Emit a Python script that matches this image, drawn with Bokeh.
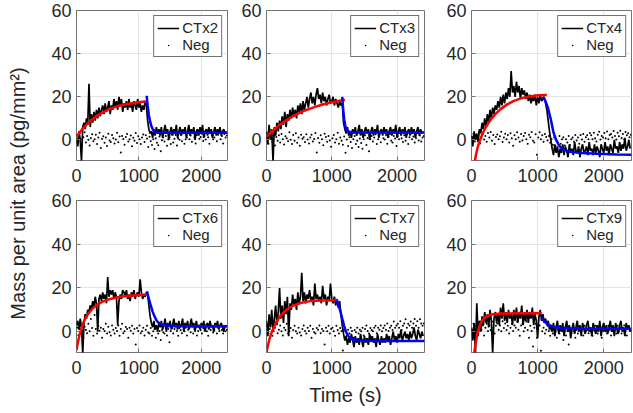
import math
from bokeh.plotting import figure
from bokeh.layouts import row, column
from bokeh.models import Range1d, FixedTicker, Legend, LegendItem
from bokeh.core.properties import value
from bokeh.embed import file_html
from bokeh.resources import INLINE

FONT = "Liberation Sans"
INK = "#262626"
FRAME = "#737373"
GRID = "#e4e4e4"

SAMPLE_STEP = 20  # seconds between readings
X_RANGE = (0, 2420)
Y_RANGE = (-9.5, 60)
X_TICKS = [0, 1000, 2000]
Y_TICKS = [0, 20, 40, 60]
X_LABEL = "Time (s)"
Y_LABEL = "Mass per unit area (pg/mm\u00b2)"
NEG_LABEL = "Neg"

# ---------------- CTx2 ----------------
ctx2_signal = [
    1, -3, 4, 0, -10, 6, 8, 5, 10, 7,
    26, 6, 12, 8, 13, 9, 14, 10, 15, 11,
    14, 16, 12, 17, 13, 15, 18, 12, 16, 14,
    19, 15, 18, 14, 20, 16, 19, 13, 17, 15,
    18, 14, 19, 15, 17, 13, 18, 16, 14, 19,
    15, 17, 13, 16, 14, 18, 16, 9, 5, 3,
    4, 1, 5, 2, 6, 3, 5, 2, 6, 1,
    4, 7, 3, 5, 0, 4, 6, 2, 5, 3,
    7, 1, 4, 6, 2, 5, 3, 6, 1, 4,
    7, 2, 5, 3, 6, 0, 4, 5, 2, 6,
    3, 7, 1, 4, 5, 2, 6, 3, 5, 1,
    4, 6, 2, 5, 3, 6, 2, 4, 5, 3,
    4]
ctx2_neg = [
    2.2, -0.8, 3.1, 0.4, -1.7, 1.3, 3.6, -1.2, 1.8, 0.1,
    -2.6, 0.9, 2.7, -0.6, 0.3, 2.4, -1.9, 1.1, 3.3, -3.7,
    0.6, 1.7, -1.3, 1.2, -2.8, 2.9, -0.2, -0.9, 2.3, 0.8,
    -1.6, 0.2, 3.4, -1.1, 1.6, -5.8, 1.9, 0.5, -2.2, 1.4,
    2.8, -0.7, 0.3, 2.1, -2.9, 1.0, -0.4, 3.2, -1.4, 1.7,
    0.4, -1.8, 1.2, 2.6, -0.9, 2.2, 0.7, -3.3, 1.5, -0.6,
    -2.3, 0.3, -4.2, 0.8, -1.3, -2.4, 1.6, -5.2, -0.1, 1.1,
    -0.7, 1.9, -2.7, 0.2, 1.3, -1.8, 2.6, -1.2, 0.6, 2.3,
    -2.6, 0.8, 0.1, 2.4, -0.6, 3.1, -1.7, 0.4, 1.2, 3.7,
    0.3, 2.1, -0.8, 3.4, 1.1, -1.6, 2.3, 4.2, 0.6, 1.4,
    2.9, -0.5, 1.8, 0.2, 3.8, 1.3, -1.7, 3.1, 2.2, 0.4,
    1.2, 3.6, -0.6, 2.4, 3.3, 0.3, 1.8, -1.6, 2.8, 1.1,
    2.1]
ctx2_rise_t = [0, 50, 100, 200, 300, 400, 500, 600, 700, 800, 900, 1000, 1130]
ctx2_rise_y = [1.5, 3.5, 5.3, 8.3, 10.7, 12.5, 14.0, 15.1, 16.0, 16.6, 17.1, 17.5, 17.9]
ctx2_decay_t = [1125, 1140, 1160, 1180, 1200, 1225, 1250, 1300, 1400, 1600, 2000, 2420]
ctx2_decay_y = [20.5, 16.0, 11.5, 8.5, 6.5, 4.8, 3.9, 3.4, 3.3, 3.3, 3.3, 3.3]

# ---------------- CTx3 ----------------
ctx3_signal = [
    4, -2, 7, 0, 5, -10, 6, 2, 8, 4,
    9, 5, 11, 7, 13, 6, 12, 9, 14, 10,
    15, 11, 14, 10, 16, 13, 17, 12, 18, 14,
    17, 20, 15, 19, 22, 17, 20, 16, 21, 24,
    19, 21, 17, 22, 18, 20, 16, 19, 21, 17,
    18, 20, 16, 19, 17, 15, 18, 16, 17, 8,
    5, 3, 6, 2, 4, 1, 5, 3, 6, 2,
    4, 7, 2, 5, 1, 4, 6, 3, 5, 0,
    4, 6, 2, 5, 3, 7, 1, 4, 5, 2,
    6, 3, 5, 1, 4, 6, 2, 5, 3, 7,
    1, 4, 6, 2, 5, 3, 6, 1, 4, 5,
    2, 6, 3, 5, 1, 4, 6, 2, 5, 3,
    4]
ctx3_neg = [
    1.2, -1.7, 2.6, 0.3, -0.8, 2.1, -2.6, 1.4, -0.3, 2.2,
    -1.2, 2.8, 0.4, -2.1, 1.7, 0.8, -0.6, 3.6, 0.1, -1.8,
    2.3, -0.4, 3.1, -1.3, 1.1, -2.7, 2.4, 0.6, 1.3, -0.9,
    2.7, 0.2, -1.6, 1.2, 2.4, -0.7, 0.5, 3.2, -5.8, 0.9,
    -1.3, 2.2, 0.3, -2.4, 2.9, 1.4, -0.8, 1.8, -0.2, -3.1,
    0.8, 2.3, -1.2, 0.4, 3.3, -1.7, 1.2, -0.3, -2.2, 1.6,
    -5.9, 0.2, -2.8, 1.3, -0.9, -3.7, 0.4, 1.8, -1.9, -0.4,
    -3.3, 0.7, -1.4, -4.1, 0.3, 2.2, -2.3, 0.9, -5.2, 0.4,
    1.8, -0.7, 1.2, 2.7, -1.8, 0.3, 2.4, -1.1, 3.2, 0.8,
    0.2, 2.3, -1.7, 1.4, 2.8, -0.3, -1.2, 1.9, 0.7, -2.8,
    1.7, 0.3, 3.1, 0.8, -0.9, 2.2, -0.4, 2.7, -1.8, 1.3,
    2.9, 0.4, 1.6, -1.2, 0.9, 3.3, -0.2, 2.1, -0.7, 1.2,
    1.8]
ctx3_rise_t = [0, 100, 200, 300, 400, 500, 600, 700, 800, 900, 1000, 1100, 1200]
ctx3_rise_y = [1.5, 4.4, 6.9, 9.1, 10.9, 12.4, 13.8, 14.9, 15.9, 16.8, 17.5, 18.1, 18.6]
ctx3_decay_t = [1160, 1175, 1190, 1205, 1220, 1240, 1270, 1320, 1400, 1600, 2000, 2420]
ctx3_decay_y = [20.0, 14.0, 9.5, 6.8, 5.2, 4.3, 3.8, 3.6, 3.5, 3.5, 3.5, 3.5]

# ---------------- CTx4 ----------------
ctx4_signal = [
    2, -3, 4, 0, 3, -1, 5, 3, 8, 5,
    10, 6, 12, 8, 14, 10, 15, 12, 16, 14,
    18, 15, 20, 16, 21, 17, 22, 19, 24, 20,
    32, 22, 25, 20, 27, 22, 25, 19, 24, 21,
    23, 19, 22, 18, 21, 17, 20, 18, 21, 16,
    20, 17, 21, 18, 19, 20, 17, 14, 9, 4,
    0, -4, -7, -2, -6, -3, -8, -4, -6, -2,
    -7, -3, -5, -8, -2, -6, -4, -7, -1, -5,
    -6, -3, -8, -4, -2, -6, -5, -3, -7, -1,
    -5, -4, -7, -2, -6, -3, -5, -8, -2, -4,
    -6, -1, -5, -3, -7, -2, -4, -6, 0, -4,
    -3, -6, -1, -5, -2, -4, 1, -5, -3, 0,
    -4]
ctx4_neg = [
    1.3, 2.8, -0.7, 2.2, 0.4, 3.6, -1.6, 0.9, 2.7, 0.2,
    1.8, -0.8, 3.2, 1.2, 3.7, -0.3, 2.3, -1.8, 1.4, 2.6,
    0.3, 1.7, 3.8, -0.9, 1.2, 2.9, 0.4, 2.3, -1.2, 3.1,
    0.8, -2.7, 2.2, 0.3, 3.6, 1.1, -0.8, 2.8, -0.2, 1.9,
    3.2, 0.4, -1.7, 2.4, 1.3, 3.7, -0.3, -1.2, 2.7, -6.8,
    1.2, 3.6, 0.3, 2.2, -0.8, 2.8, 1.4, -0.2, 1.8, -1.3,
    0.4, -2.2, 1.2, -2.8, -0.3, -1.3, 1.8, -1.7, 0.3, 1.3,
    -2.6, 0.3, -1.2, 1.8, -2.3, 0.4, 1.2, -0.8, 2.3, -0.2,
    1.2, -1.7, 2.3, 0.2, 2.8, -0.8, 1.3, 2.2, 0.4, 3.2,
    2.2, 0.3, 3.3, 0.8, -0.7, 2.4, 3.8, 0.2, 1.8, 1.2,
    3.2, 0.8, 3.9, 0.3, 2.3, 2.8, 1.2, 4.2, 1.8, 0.2,
    3.3, 1.7, 4.3, 0.9, 2.8, 0.3, 3.7, 2.2, 3.1, 1.3,
    2.4]
ctx4_rise_t = [50, 70, 90, 120, 160, 200, 250, 300, 360, 440, 540, 640, 760, 900, 1020, 1140]
ctx4_rise_y = [-10, -6.5, -3.8, -0.8, 2.4, 5.0, 7.6, 9.8, 12.0, 14.3, 16.5, 18.1, 19.4, 20.3, 20.7, 20.9]
ctx4_decay_t = [1076, 1120, 1160, 1200, 1240, 1280, 1330, 1400, 1500, 1660, 1900, 2200, 2420]
ctx4_decay_y = [20.0, 18.0, 14.5, 9.5, 3.5, 0.0, -2.8, -4.6, -5.5, -6.0, -6.4, -6.7, -6.8]

# ---------------- CTx6 ----------------
ctx6_signal = [
    3, 5, 1, 6, 2, -10, 4, 8, 6, 10,
    9, 12, 10, 14, 11, 16, 13, 0, 15, 17,
    14, 18, 15, 17, 13, 25, 16, 19, 17, 19,
    15, 18, 16, 3, 14, 17, 15, 19, 18, 16,
    19, 15, 17, 14, 18, 16, 19, 15, 17, 18,
    16, 24, 18, 15, 17, 16, 18, 17, 12, 7,
    4, 2, 5, 1, 3, 0, 4, 2, 5, 1,
    3, 6, 0, 4, 2, 5, 1, 3, 6, 2,
    4, 1, 5, 2, 3, 6, 0, 4, 2, 5,
    1, 3, 6, 2, 4, 0, 5, 2, 3, 1,
    4, 2, 5, 0, 3, 4, 1, 5, 2, 3,
    0, 4, 2, 5, 1, 3, 4, 2, 0, 3,
    2]
ctx6_neg = [
    1.8, -1.6, 1.2, 2.7, 0.3, -2.8, 2.3, 0.8, -0.7, 3.6,
    0.2, 5.8, 1.7, -1.8, 7.6, 1.3, -0.8, 2.6, 0.4, 1.8,
    -2.7, 1.2, 0.3, 3.7, -0.8, 2.3, -0.2, -1.7, 2.8, 0.9,
    -0.8, 1.7, 0.3, 2.8, -1.8, 1.3, 3.6, -0.7, 0.2, 2.2,
    1.3, -2.7, 1.8, 0.4, 2.7, -0.8, 1.2, -5.8, 1.7, 0.3,
    2.8, -0.7, 0.2, 1.8, -1.7, 0.9, 2.7, -0.3, -0.8, 1.7,
    -1.8, 0.2, 1.2, -2.7, 1.8, -0.8, 0.3, -3.8, 0.8, -0.2,
    -0.8, 1.8, -1.7, 1.2, -4.8, 0.3, 1.7, -0.8, 1.2, 2.7,
    0.3, -1.8, 1.7, 0.8, -0.7, 2.8, 0.2, 1.8, -1.7, 0.9,
    1.8, -0.2, 2.7, -0.8, 1.2, 1.8, -1.7, 0.3, 2.8, 0.8,
    -0.8, 1.7, 0.9, 2.8, 0.2, -1.8, 1.7, 0.8, 2.7, -0.3,
    0.8, 2.7, -0.8, 1.8, 0.3, 2.8, 0.8, -0.8, 1.7, 0.2,
    0.9]
ctx6_rise_t = [0, 20, 40, 60, 90, 120, 160, 200, 260, 330, 420, 540, 700, 900, 1130]
ctx6_rise_y = [-8.5, -5.2, -2.5, -0.2, 2.6, 4.8, 7.0, 8.7, 10.7, 12.3, 13.8, 15.0, 16.0, 16.6, 17.0]
ctx6_decay_t = [1130, 1160, 1190, 1220, 1250, 1290, 1340, 1420, 1550, 1800, 2420]
ctx6_decay_y = [18.5, 15.0, 12.0, 9.2, 7.0, 4.8, 3.6, 2.9, 2.6, 2.5, 2.5]

# ---------------- CTx7 ----------------
ctx7_signal = [
    5, -2, 8, 2, 10, 0, 6, 12, 3, 9,
    20, 6, 12, 4, 14, 8, 16, -2, 13, 10,
    17, 12, 15, 10, 18, 13, 16, 27, 14, 18,
    13, 17, 15, 19, 14, 16, 12, 22, 15, 17,
    14, 16, 13, 21, 15, 17, 12, 16, 14, 22,
    15, 13, 16, 12, 15, 11, 14, 8, 3, -1,
    -4, -2, -6, -3, -5, -1, -4, -7, -2, -5,
    -3, -6, -1, -4, -7, -2, -5, -3, -6, -1,
    -4, -2, -5, -3, -7, -1, -4, -6, -2, -5,
    -3, -5, -1, -4, -2, -6, -3, 0, -4, -2,
    -5, -1, -3, 1, -4, -2, 0, -3, -1, -4,
    0, -3, -1, 2, -2, -4, 1, -1, -3, 0,
    -2]
ctx7_neg = [
    2.7, -0.8, 1.2, 3.6, -1.8, 0.3, 1.8, 4.6, -0.7, 0.9,
    2.8, 0.2, -1.7, 1.8, 0.8, 3.7, -0.8, 0.3, 1.7, -2.8,
    0.8, 2.7, 0.2, -0.8, 1.8, -0.3, -1.7, 1.2, 2.8, 0.3,
    -0.8, 1.8, 0.3, 2.7, -2.8, 1.2, -0.2, -0.8, 1.7, 0.9,
    2.8, -0.7, 1.2, 0.3, -5.8, 1.8, 0.2, 2.7, -0.8, 1.2,
    1.8, 0.2, -1.8, 2.7, 0.8, -0.8, 1.7, 0.3, -8.6, 0.9,
    0.2, -1.7, 0.9, -0.8, 1.8, 0.3, -2.7, 0.8, -0.2, 1.8,
    -0.8, 0.9, 0.2, 1.8, -1.7, 1.2, 2.8, 0.3, -0.8, 1.7,
    0.8, 0.2, 1.8, 2.7, -0.7, 1.8, 0.9, 2.8, 0.2, 1.7,
    2.8, 0.9, 3.8, 0.3, 1.8, 2.7, 0.8, 4.7, 1.8, 2.8,
    3.7, 1.8, 4.8, 0.8, 2.7, 3.8, 5.7, 1.8, 3.7, 2.8,
    4.7, 1.8, 3.8, 5.8, 2.7, 4.8, 1.8, 5.7, 3.8, 2.7,
    3.8]
ctx7_rise_t = [0, 20, 40, 60, 90, 130, 170, 212, 270, 340, 414, 520, 667, 850, 1100]
ctx7_rise_y = [-9.5, -6.5, -4.0, -1.9, 0.5, 3.0, 5.3, 7.2, 9.1, 10.8, 12.0, 13.1, 14.0, 14.3, 14.4]
ctx7_decay_t = [1070, 1100, 1130, 1160, 1190, 1220, 1260, 1320, 1400, 1550, 1800, 2420]
ctx7_decay_y = [14.4, 12.5, 9.5, 6.0, 2.6, -0.2, -2.3, -3.4, -3.9, -4.1, -4.2, -4.2]

# ---------------- CTx9 ----------------
ctx9_signal = [
    2, -4, 4, -10, 13, -2, 5, 0, 7, 3,
    9, 4, 8, 2, 10, 5, -10, 6, 9, 4,
    8, 3, 11, 6, 13, 5, 9, 4, 10, 6,
    8, 3, 10, 5, 11, 4, 9, 6, 12, 3,
    8, 5, 10, 4, 9, 6, 11, 3, 8, 5,
    -3, 7, 10, 5, 8, 4, 6, 3, 5, 1,
    3, 0, 4, -2, 2, 5, -1, 3, 0, 4,
    -2, 2, 5, 0, 3, -3, 1, 4, -1, 2,
    5, 0, 3, -2, 4, 1, -1, 3, 5, 0,
    2, -2, 4, 1, -1, 3, 0, 5, -2, 2,
    4, 0, 3, -1, 2, 5, 0, 3, -2, 4,
    1, -1, 3, 5, 0, 2, -2, 4, 1, 3,
    0]
ctx9_neg = [
    0.8, 3.7, -0.8, 2.7, 0.3, 1.8, 4.7, 0.9, 2.8, -1.7,
    1.8, 3.7, 0.3, 2.8, 0.8, 4.7, 1.8, -0.8, 2.7, 3.8,
    0.9, 2.8, 0.2, 4.8, 1.7, 3.8, 0.8, 2.7, -0.8, 1.8,
    3.7, 0.3, 2.8, 1.8, 4.7, 0.9, -1.8, 2.8, 3.7, 0.2,
    1.8, 4.7, 0.8, -2.8, 2.7, 0.3, -6.8, 1.8, 3.7, -2.7,
    0.9, 2.8, -8.7, 0.2, 1.8, -0.8, 0.9, 2.7, 0.3, -1.8,
    0.8, -0.8, 1.8, 0.2, -2.7, 0.9, -0.8, 1.7, 0.3, -3.8,
    0.8, -1.7, 0.3, -5.8, 0.9, -0.8, 1.8, 0.2, -2.8, 0.9,
    -0.8, 1.8, 0.3, 0.9, -1.7, 2.7, 0.2, 0.8, -0.7, 1.8,
    0.3, -1.8, 0.9, 2.7, 0.2, -0.8, 1.7, 0.9, -2.7, 0.3,
    1.8, 0.2, -0.8, 2.7, 0.9, -1.7, 0.3, 1.8, 0.8, -0.8,
    2.7, 0.3, 1.8, -0.8, 0.9, 2.8, 0.2, -1.7, 1.8, 0.9,
    0.3]
ctx9_rise_t = [40, 55, 70, 85, 100, 120, 145, 175, 210, 260, 330, 450, 700, 1060]
ctx9_rise_y = [-10, -7.0, -4.0, -1.6, 0.4, 2.4, 4.2, 5.6, 6.7, 7.5, 8.0, 8.3, 8.4, 8.4]
ctx9_decay_t = [1055, 1090, 1130, 1180, 1240, 1320, 1450, 1700, 2100, 2420]
ctx9_decay_y = [6.4, 5.1, 4.0, 3.0, 2.3, 1.9, 1.6, 1.5, 1.4, 1.4]

panel_names = ["CTx2", "CTx3", "CTx4", "CTx6", "CTx7", "CTx9"]
panel_data = {
    "CTx2": (ctx2_signal, ctx2_neg, ctx2_rise_t, ctx2_rise_y, ctx2_decay_t, ctx2_decay_y),
    "CTx3": (ctx3_signal, ctx3_neg, ctx3_rise_t, ctx3_rise_y, ctx3_decay_t, ctx3_decay_y),
    "CTx4": (ctx4_signal, ctx4_neg, ctx4_rise_t, ctx4_rise_y, ctx4_decay_t, ctx4_decay_y),
    "CTx6": (ctx6_signal, ctx6_neg, ctx6_rise_t, ctx6_rise_y, ctx6_decay_t, ctx6_decay_y),
    "CTx7": (ctx7_signal, ctx7_neg, ctx7_rise_t, ctx7_rise_y, ctx7_decay_t, ctx7_decay_y),
    "CTx9": (ctx9_signal, ctx9_neg, ctx9_rise_t, ctx9_rise_y, ctx9_decay_t, ctx9_decay_y),
}

# layout geometry (px)
LABEL_W = 36
COLS = [dict(bl=40, fw=151, br=4), dict(bl=35, fw=158, br=4), dict(bl=43, fw=160, br=1)]
ROWS = [dict(bt=10, fh=150, bb=30), dict(bt=10, fh=152, bb=60)]
TOTAL_H = sum(r["bt"] + r["fh"] + r["bb"] for r in ROWS)


def make_panel(name, col, rw, xlabel=None):
    signal, neg, rise_t, rise_y, decay_t, decay_y = panel_data[name]
    p = figure(frame_width=col["fw"], frame_height=rw["fh"],
               min_border_left=col["bl"], min_border_right=col["br"],
               min_border_top=rw["bt"], min_border_bottom=rw["bb"],
               x_range=Range1d(*X_RANGE), y_range=Range1d(*Y_RANGE),
               toolbar_location=None, output_backend="svg", title=None)
    p.outline_line_color = FRAME
    p.outline_line_width = 1
    p.background_fill_color = "white"
    p.border_fill_color = "white"
    p.xaxis.ticker = FixedTicker(ticks=X_TICKS)
    p.yaxis.ticker = FixedTicker(ticks=Y_TICKS)
    for ax in (p.xaxis[0], p.yaxis[0]):
        ax.axis_line_color = None
        ax.major_tick_in = 4
        ax.major_tick_out = 0
        ax.major_tick_line_color = FRAME
        ax.minor_tick_line_color = None
        ax.major_label_text_font = FONT
        ax.major_label_text_font_size = "18px"
        ax.major_label_text_color = INK
    p.xaxis.major_label_standoff = 8
    p.yaxis.major_label_standoff = 5
    if xlabel:
        p.xaxis.axis_label = xlabel
        p.xaxis.axis_label_text_font = FONT
        p.xaxis.axis_label_text_font_size = "20px"
        p.xaxis.axis_label_text_font_style = "normal"
        p.xaxis.axis_label_text_color = INK
        p.xaxis.axis_label_standoff = 7
    p.grid.grid_line_color = GRID

    t_sig = [SAMPLE_STEP * i for i in range(len(signal))]
    t_neg = [SAMPLE_STEP * i + SAMPLE_STEP // 2 for i in range(len(neg))]
    r_sig = p.line(t_sig, signal, line_color="black", line_width=1.7)
    r_neg = p.scatter(t_neg, neg, marker="dot", size=8,
                      line_color="black", fill_color="black")
    p.line(rise_t, rise_y, line_color="#ff0000", line_width=2.5)
    p.line(decay_t, decay_y, line_color="#0000ff", line_width=2.5)

    leg = Legend(items=[LegendItem(label=name, renderers=[r_sig]),
                        LegendItem(label=NEG_LABEL, renderers=[r_neg])],
                 location="top_right", margin=5, padding=3, spacing=0,
                 label_standoff=3, glyph_width=22, glyph_height=16,
                 label_height=16, label_text_font=FONT,
                 label_text_font_size="15px", label_text_color=INK,
                 border_line_color=FRAME, border_line_alpha=1,
                 background_fill_color="white", background_fill_alpha=1)
    p.add_layout(leg)
    return p


figs = []
for i, name in enumerate(panel_names):
    r_i, c_i = divmod(i, 3)
    figs.append(make_panel(name, COLS[c_i], ROWS[r_i],
                           xlabel=X_LABEL if (r_i == 1 and c_i == 1) else None))

ylab = figure(width=LABEL_W, height=TOTAL_H, x_range=Range1d(0, LABEL_W),
              y_range=Range1d(0, TOTAL_H), min_border=0, toolbar_location=None,
              output_backend="svg", x_axis_type=None, y_axis_type=None, title=None)
ylab.outline_line_color = None
ylab.text(x=[17], y=[TOTAL_H - 193], text=[Y_LABEL], angle=math.pi / 2,
          text_align="center", text_baseline="middle", text_font=value(FONT),
          text_font_size="20px", text_color=INK)

grid = column(row(*figs[:3]), row(*figs[3:]))
page = row(ylab, grid)

open("out.html", "w").write(file_html(page, INLINE))
